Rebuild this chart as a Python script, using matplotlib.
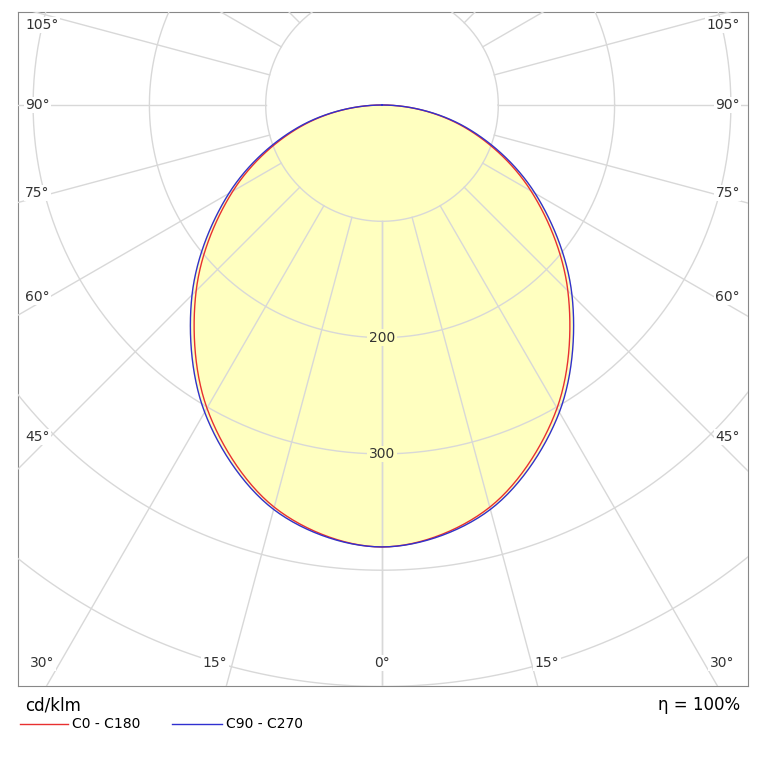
import numpy as np
import matplotlib
matplotlib.use("Agg")
import matplotlib.pyplot as plt

gamma = [0, 15, 30, 45, 60, 75, 90]
c0_c180 = [380, 358, 301, 226, 148, 73, 0]
c90_c270 = [380, 360, 305, 231, 152, 75, 0]
radii = [100, 200, 300, 400, 500]
radius_labels = {200: "200", 300: "300"}
side_labels = ["105°", "90°", "75°", "60°", "45°"]
side_px_y = [25, 105, 193, 297, 437]
bottom_labels = ["30°", "15°", "0°", "15°", "30°"]
bottom_px_x = [42, 215, 382, 547, 722]

W = H = 767
fig = plt.figure(figsize=(7.67, 7.67), dpi=100)
L, R, T, B = 18, 748, 12, 686
ax = fig.add_axes([L / W, 1 - B / H, (R - L) / W, (B - T) / H])
s = 1.163  # px per unit
ox, oy = 382, 105
ax.set_xlim((L - ox) / s, (R - ox) / s)
ax.set_ylim(-(B - oy) / s, (oy - T) / s)
ax.set_xticks([]); ax.set_yticks([])
for sp in ax.spines.values():
    sp.set_color("#888888")

gc = "#d8d8d8"
t = np.linspace(0, 2 * np.pi, 400)
for r in radii:
    ax.plot(r * np.cos(t), r * np.sin(t), color=gc, lw=1, zorder=3)
for a in range(0, 181, 15):
    ar = np.radians(a)
    for sgn in (-1, 1):
        dx, dy = sgn * np.sin(ar), -np.cos(ar)
        ax.plot([100 * dx, 800 * dx], [100 * dy, 800 * dy], color=gc, lw=1, zorder=3)

def curve(vals):
    g = np.radians(np.array(gamma, float))
    v = np.array(vals, float)
    gg = np.concatenate([-g[::-1], g[1:]])
    vv = np.concatenate([v[::-1], v[1:]])
    P = np.column_stack([vv * np.sin(gg), -vv * np.cos(gg)])[:-1]  # closed loop
    n = len(P)
    out = []
    for i in range(n):
        p0, p1, p2, p3 = P[i - 1], P[i], P[(i + 1) % n], P[(i + 2) % n]
        for u in np.linspace(0, 1, 30, endpoint=False):
            out.append(0.5 * ((2 * p1) + (-p0 + p2) * u + (2 * p0 - 5 * p1 + 4 * p2 - p3) * u**2
                              + (-p0 + 3 * p1 - 3 * p2 + p3) * u**3))
    out.append(out[0])
    out = np.array(out)
    return out[:, 0], out[:, 1]

xr, yr = curve(c0_c180)
xb, yb = curve(c90_c270)
ax.fill(xb, yb, color="#ffffc0", zorder=2)
ax.plot(xr, yr, color="#e83030", lw=1, zorder=4)
ax.plot(xb, yb, color="#3030d0", lw=1, zorder=4)

for r, lab in radius_labels.items():
    ax.text(0, -r, lab, ha="center", va="center", fontsize=10, color="#333333", zorder=5,
            bbox=dict(facecolor="#ffffc0", edgecolor="none", pad=1))

def px(x, y):
    return ((x - ox) / s, (oy - y) / s)
for lab, y in zip(side_labels, side_px_y):
    ax.text(*px(25, y), lab, ha="left", va="center", fontsize=10, color="#333333", zorder=5,
            bbox=dict(facecolor="white", edgecolor="none", pad=1))
    ax.text(*px(740, y), lab, ha="right", va="center", fontsize=10, color="#333333", zorder=5,
            bbox=dict(facecolor="white", edgecolor="none", pad=1))
for lab, x in zip(bottom_labels, bottom_px_x):
    ax.text(*px(x, 663), lab, ha="center", va="center", fontsize=10, color="#333333", zorder=5,
            bbox=dict(facecolor="white", edgecolor="none", pad=1))

fig.text(25 / W, 1 - 705 / H, "cd/klm", fontsize=12, va="center", ha="left")
fig.text(740 / W, 1 - 705 / H, "η = 100%", fontsize=12, va="center", ha="right")
yl = 1 - 724 / H
fig.add_artist(plt.Line2D([20 / W, 68 / W], [yl, yl], color="#e83030", lw=1))
fig.text(72 / W, yl, "C0 - C180", fontsize=10, va="center")
fig.add_artist(plt.Line2D([172 / W, 222 / W], [yl, yl], color="#3030d0", lw=1))
fig.text(226 / W, yl, "C90 - C270", fontsize=10, va="center")

fig.savefig("out.png", dpi=100)
